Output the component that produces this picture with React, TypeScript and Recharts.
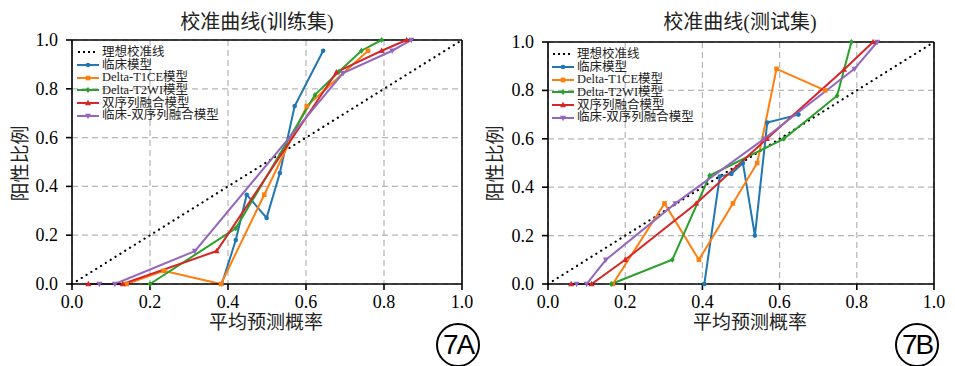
import React from "react";
import {
  LineChart,
  Line,
  XAxis,
  YAxis,
  CartesianGrid,
  ReferenceLine,
  Legend,
} from "recharts";

// 坐标刻度
const ticks = [0, 0.2, 0.4, 0.6, 0.8, 1.0];

// 训练集
const trainClinicalX = [0.384, 0.42, 0.448, 0.499, 0.533, 0.571, 0.644];
const trainClinicalY = [0, 0.18, 0.366, 0.271, 0.455, 0.729, 0.956];
const trainT1ceX = [0.14, 0.235, 0.382, 0.493, 0.602, 0.759];
const trainT1ceY = [0, 0.054, 0, 0.366, 0.729, 0.956];
const trainT2wiX = [0.2, 0.42, 0.623, 0.685, 0.742, 0.794];
const trainT2wiY = [0, 0.228, 0.775, 0.871, 0.956, 1.0];
const trainFusionX = [0.042, 0.13, 0.371, 0.678, 0.794, 0.858];
const trainFusionY = [0, 0, 0.135, 0.868, 0.956, 1.0];
const trainClinFusionX = [0.07, 0.11, 0.315, 0.695, 0.821, 0.87];
const trainClinFusionY = [0, 0, 0.135, 0.864, 0.956, 1.0];

// 测试集
const testClinicalX = [0.405, 0.445, 0.475, 0.505, 0.536, 0.568, 0.649];
const testClinicalY = [0, 0.444, 0.455, 0.5, 0.2, 0.667, 0.7];
const testT1ceX = [0.168, 0.302, 0.391, 0.479, 0.542, 0.592, 0.718];
const testT1ceY = [0, 0.333, 0.1, 0.333, 0.5, 0.889, 0.8];
const testT2wiX = [0.164, 0.322, 0.419, 0.611, 0.749, 0.786];
const testT2wiY = [0, 0.1, 0.448, 0.6, 0.778, 1.0];
const testFusionX = [0.06, 0.113, 0.2, 0.384, 0.567, 0.767, 0.842];
const testFusionY = [0, 0, 0.1, 0.333, 0.6, 0.886, 1.0];
const testClinFusionX = [0.074, 0.1, 0.15, 0.33, 0.56, 0.794, 0.853];
const testClinFusionY = [0, 0, 0.1, 0.333, 0.6, 0.889, 1.0];

const idealX = [0, 1];
const idealY = [0, 1];
const idealName = "理想校准线";

const seriesNames = [
  "临床模型",
  "Delta-T1CE模型",
  "Delta-T2WI模型",
  "双序列融合模型",
  "临床-双序列融合模型",
];
const colors = ["#1f77b4", "#ff7f0e", "#2ca02c", "#d62728", "#9467bd"];
const shapes = ["circle", "square", "diamond", "triUp", "triDown"];

const zip = (xs: number[], ys: number[]) => xs.map((x, i) => ({ x, y: ys[i] }));

const trainSeries = [
  zip(trainClinicalX, trainClinicalY),
  zip(trainT1ceX, trainT1ceY),
  zip(trainT2wiX, trainT2wiY),
  zip(trainFusionX, trainFusionY),
  zip(trainClinFusionX, trainClinFusionY),
];
const testSeries = [
  zip(testClinicalX, testClinicalY),
  zip(testT1ceX, testT1ceY),
  zip(testT2wiX, testT2wiY),
  zip(testFusionX, testFusionY),
  zip(testClinFusionX, testClinFusionY),
];

const SERIF = '"Liberation Serif", "Noto Sans CJK SC", serif';

function Marker({ shape, cx, cy, color }: any) {
  if (shape === "circle") return <circle cx={cx} cy={cy} r={2.3} fill={color} />;
  if (shape === "square")
    return <rect x={cx - 2.3} y={cy - 2.3} width={4.6} height={4.6} fill={color} />;
  if (shape === "diamond")
    return (
      <path
        d={`M${cx},${cy - 3} L${cx + 2.4},${cy} L${cx},${cy + 3} L${cx - 2.4},${cy} Z`}
        fill={color}
      />
    );
  if (shape === "triUp")
    return (
      <path d={`M${cx},${cy - 3.2} L${cx + 3},${cy + 2.2} L${cx - 3},${cy + 2.2} Z`} fill={color} />
    );
  return (
    <path d={`M${cx},${cy + 3.2} L${cx + 3},${cy - 2.2} L${cx - 3},${cy - 2.2} Z`} fill={color} />
  );
}

const makeDot = (shape: string, color: string) => (props: any) => {
  const { cx, cy, index } = props;
  if (cx == null || cy == null) return <g key={`d${index}`} />;
  return (
    <g key={`d${index}`}>
      <Marker shape={shape} cx={cx} cy={cy} color={color} />
    </g>
  );
};

const legendOrder = [idealName, ...seriesNames];

const renderLegend = (props: any) => {
  const payload = [...(props.payload || [])].sort(
    (a: any, b: any) => legendOrder.indexOf(a.value) - legendOrder.indexOf(b.value)
  );
  return (
    <div style={{ fontFamily: SERIF, fontSize: 12.5, lineHeight: "12.7px", color: "#222" }}>
      {payload.map((p: any, i: number) => {
        const idx = seriesNames.indexOf(p.value);
        return (
          <div key={i} style={{ display: "flex", alignItems: "center", height: 12.7 }}>
            <svg width={22} height={10} style={{ marginRight: 3 }}>
              {idx < 0 ? (
                <line x1={1} y1={5} x2={21} y2={5} stroke="#000" strokeWidth={2} strokeDasharray="2 3" />
              ) : (
                <>
                  <line x1={0} y1={5} x2={22} y2={5} stroke={colors[idx]} strokeWidth={2} />
                  <Marker shape={shapes[idx]} cx={11} cy={5} color={colors[idx]} />
                </>
              )}
            </svg>
            <span style={{ whiteSpace: "nowrap" }}>{p.value}</span>
          </div>
        );
      })}
    </div>
  );
};

const tickTextStyle: React.CSSProperties = {
  fontFamily: "'Liberation Serif', 'Times New Roman', serif",
  fontSize: 18,
};

const XTick = (props: any) => {
  const { x, y, payload } = props;
  return (
    <text x={x} y={y} dy={15} textAnchor="middle" fill="#000" style={tickTextStyle}>
      {Number(payload.value).toFixed(1)}
    </text>
  );
};

const YTick = (props: any) => {
  const { x, y, payload } = props;
  return (
    <text x={x} y={y} dy={6} textAnchor="end" fill="#000" style={tickTextStyle}>
      {Number(payload.value).toFixed(1)}
    </text>
  );
};

interface PanelProps {
  left: number;
  width: number;
  top: number;
  yAxisWidth: number;
  marginRight: number;
  data: { x: number; y: number }[][];
  legendLeft: number;
  legendTop: number;
}

function Panel({ left, width, top, yAxisWidth, marginRight, data, legendLeft, legendTop }: PanelProps) {
  return (
    <div style={{ position: "absolute", left, top: 0 }}>
      <LineChart
        width={width}
        height={366}
        margin={{ top, right: marginRight, bottom: 52, left: 0 }}
      >
        <CartesianGrid stroke="#b5b5b5" strokeDasharray="6 4" strokeWidth={1.2} />
        <XAxis
          type="number"
          dataKey="x"
          domain={[0, 1]}
          ticks={ticks}
          tick={<XTick />}
          tickSize={6}
          tickMargin={3}
          height={30}
          axisLine={{ stroke: "#000", strokeWidth: 1.6 }}
          tickLine={{ stroke: "#000", strokeWidth: 1.6 }}
        />
        <YAxis
          type="number"
          dataKey="y"
          domain={[0, 1]}
          ticks={ticks}
          tick={<YTick />}
          tickSize={6}
          tickMargin={8}
          width={yAxisWidth}
          axisLine={{ stroke: "#000", strokeWidth: 1.6 }}
          tickLine={{ stroke: "#000", strokeWidth: 1.6 }}
        />
        <ReferenceLine y={1} stroke="#000" strokeWidth={1.6} />
        <ReferenceLine x={1} stroke="#000" strokeWidth={1.6} />
        <Legend
          layout="vertical"
          align="center"
          verticalAlign="middle"
          content={renderLegend}
          wrapperStyle={{ left: legendLeft, top: legendTop, width: 200, height: 80 }}
        />
        <Line
          data={zip(idealX, idealY)}
          dataKey="y"
          name={idealName}
          stroke="#000"
          strokeWidth={2.2}
          strokeDasharray="0.1 5.6"
          strokeLinecap="round"
          dot={false}
          activeDot={false}
          isAnimationActive={false}
        />
        {data.map((pts, i) => (
          <Line
            key={seriesNames[i]}
            data={pts}
            dataKey="y"
            name={seriesNames[i]}
            stroke={colors[i]}
            strokeWidth={2}
            dot={makeDot(shapes[i], colors[i])}
            activeDot={false}
            isAnimationActive={false}
          />
        ))}
      </LineChart>
    </div>
  );
}

const textAbs = (x: number, y: number, w: number, size: number): React.CSSProperties => ({
  position: "absolute",
  left: x - w / 2,
  top: y - size / 2,
  width: w,
  height: size,
  textAlign: "center",
  fontSize: size,
  lineHeight: `${size}px`,
  fontFamily: SERIF,
  color: "#222",
  whiteSpace: "nowrap",
});

const yLabel = (x: number, y: number): React.CSSProperties => ({
  ...textAbs(x, y, 120, 19),
  transform: "rotate(-90deg)",
});

const circled = (cx: number, cy: number): React.CSSProperties => ({
  position: "absolute",
  left: cx - 22,
  top: cy - 22,
  width: 44,
  height: 44,
  boxSizing: "border-box",
  border: "2.5px solid #000",
  borderRadius: "50%",
  display: "flex",
  alignItems: "center",
  justifyContent: "center",
  fontFamily: '"Liberation Sans", Arial, sans-serif',
  fontSize: 28,
  letterSpacing: -2,
  color: "#000",
});

export default function App() {
  return (
    <div
      style={{
        position: "absolute",
        left: 0,
        top: 0,
        width: 955,
        height: 366,
        background: "#fff",
        overflow: "hidden",
      }}
    >
      <Panel
        left={0}
        width={480}
        top={40}
        yAxisWidth={72}
        marginRight={18}
        data={trainSeries}
        legendLeft={77}
        legendTop={46}
      />
      <Panel
        left={480}
        width={475}
        top={42}
        yAxisWidth={68}
        marginRight={21}
        data={testSeries}
        legendLeft={72}
        legendTop={48}
      />
      <div style={textAbs(257, 22, 300, 20)}>校准曲线(训练集)</div>
      <div style={textAbs(740, 22, 300, 20)}>校准曲线(测试集)</div>
      <div style={textAbs(266, 322, 200, 19)}>平均预测概率</div>
      <div style={textAbs(750, 322, 200, 19)}>平均预测概率</div>
      <div style={yLabel(20, 163)}>阳性比例</div>
      <div style={yLabel(495, 163)}>阳性比例</div>
      <div style={circled(458, 345)}>7A</div>
      <div style={circled(917, 345)}>7B</div>
    </div>
  );
}
